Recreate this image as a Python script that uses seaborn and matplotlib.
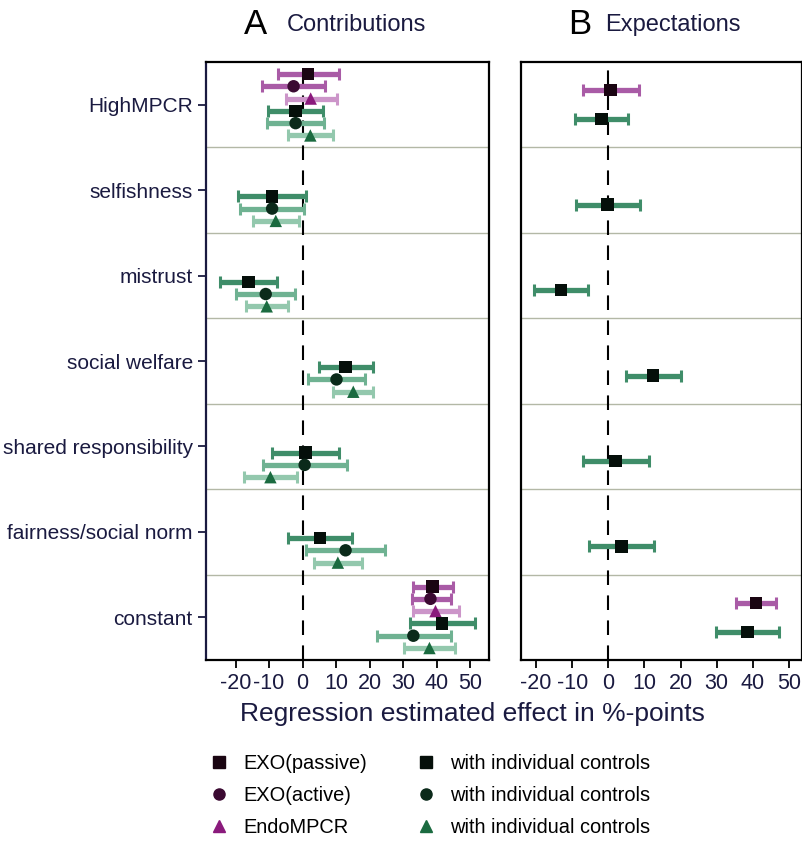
import numpy as np
import pandas as pd
import matplotlib
matplotlib.use('Agg')
import matplotlib.pyplot as plt
from matplotlib.lines import Line2D
import seaborn as sns

sns.set_style('white')
plt.rcParams['font.family'] = ['Liberation Sans', 'DejaVu Sans']
plt.rcParams['axes.unicode_minus'] = False
plt.rcParams['text.color'] = 'black'

nan = np.nan
cats = ['HighMPCR', 'selfishness', 'mistrust', 'social welfare',
        'shared responsibility', 'fairness/social norm', 'constant']

# ---- Panel A: contributions ----
passive_est = [1.6, nan, nan, nan, nan, nan, 38.7]
passive_lo = [-7.2, nan, nan, nan, nan, nan, 32.9]
passive_hi = [10.7, nan, nan, nan, nan, nan, 44.9]
active_est = [-2.7, nan, nan, nan, nan, nan, 38.1]
active_lo = [-12.0, nan, nan, nan, nan, nan, 32.6]
active_hi = [6.7, nan, nan, nan, nan, nan, 44.2]
endo_est = [2.4, nan, nan, nan, nan, nan, 39.6]
endo_lo = [-5.1, nan, nan, nan, nan, nan, 32.9]
endo_hi = [10.1, nan, nan, nan, nan, nan, 46.7]
passive_c_est = [-2.1, -9.2, -16.1, 12.8, 0.8, 5.2, 41.6]
passive_c_lo = [-10.2, -19.2, -24.6, 4.8, -9.2, -4.4, 31.9]
passive_c_hi = [6.1, 0.9, -7.6, 21.0, 10.8, 14.8, 51.4]
active_c_est = [-2.1, -9.1, -11.0, 10.1, 0.6, 12.8, 33.0]
active_c_lo = [-10.6, -18.7, -19.8, 1.6, -11.8, 1.1, 22.2]
active_c_hi = [6.5, 0.5, -2.4, 18.7, 13.2, 24.6, 44.1]
endo_c_est = [2.3, -8.0, -10.7, 15.1, -9.6, 10.5, 37.8]
endo_c_lo = [-4.5, -14.8, -16.9, 9.1, -17.6, 3.4, 30.1]
endo_c_hi = [9.1, -1.1, -4.5, 21.0, -1.6, 17.8, 45.4]

# ---- Panel B: expectations ----
exp_est = [0.6, nan, nan, nan, nan, nan, 40.9]
exp_lo = [-7.1, nan, nan, nan, nan, nan, 35.3]
exp_hi = [8.6, nan, nan, nan, nan, nan, 46.4]
exp_c_est = [-1.9, -0.2, -13.1, 12.4, 2.0, 3.7, 38.5]
exp_c_lo = [-9.2, -9.0, -20.5, 4.9, -7.1, -5.2, 29.8]
exp_c_hi = [5.5, 8.8, -5.5, 20.0, 11.3, 12.6, 47.2]

NAVY = '#1a1a40'
mk_col = {'passive': '#1a0512', 'active': '#3b0a32', 'endo': '#8a1a7c',
          'passive_c': '#050f0a', 'active_c': '#0b2a1a', 'endo_c': '#1b6b40'}
mk_sym = {'passive': 's', 'active': 'o', 'endo': '^',
          'passive_c': 's', 'active_c': 'o', 'endo_c': '^'}
bar_col = {'passive': '#a95ba6', 'active': '#a95ba6', 'endo': '#cc95c9',
           'passive_c': '#3f8d69', 'active_c': '#6fb292', 'endo_c': '#93c8ad'}

panel_a = [('passive', passive_est, passive_lo, passive_hi, -2.5 * 0.144),
           ('active', active_est, active_lo, active_hi, -1.5 * 0.144),
           ('endo', endo_est, endo_lo, endo_hi, -0.5 * 0.144),
           ('passive_c', passive_c_est, passive_c_lo, passive_c_hi, 0.5 * 0.144),
           ('active_c', active_c_est, active_c_lo, active_c_hi, 1.5 * 0.144),
           ('endo_c', endo_c_est, endo_c_lo, endo_c_hi, 2.5 * 0.144)]
panel_b = [('passive', exp_est, exp_lo, exp_hi, -0.17),
           ('passive_c', exp_c_est, exp_c_lo, exp_c_hi, 0.17)]

fig = plt.figure(figsize=(8.02, 8.47), dpi=100)
axA = fig.add_axes([206 / 802, 187 / 847, 282.5 / 802, 598 / 847])
axB = fig.add_axes([520.5 / 802, 187 / 847, 281 / 802, 598 / 847])


def draw(ax, rows, xlim):
    recs = []
    for name, est, lo, hi, off in rows:
        est, lo, hi = map(np.asarray, (est, lo, hi))
        y = np.arange(len(cats)) + off
        ok = ~np.isnan(est)
        _, caps, _ = ax.errorbar(est[ok], y[ok], xerr=[est[ok] - lo[ok], hi[ok] - est[ok]],
                                 fmt='none', ecolor=bar_col[name], elinewidth=3.8,
                                 capsize=4.5, capthick=2.2, zorder=2)
        for c in caps:
            c.set_color('#111111')
        for e, yy in zip(est[ok], y[ok]):
            recs.append({'est': e, 'y': yy, 'series': name})
    df = pd.DataFrame(recs)
    sns.scatterplot(data=df, x='est', y='y', hue='series', style='series',
                    palette=mk_col, markers=mk_sym, s=80, linewidth=0,
                    legend=False, ax=ax, zorder=3)
    ax.axvline(0, color='black', lw=1.5, dashes=(7, 5), zorder=1)
    for b in np.arange(0.5, len(cats) - 0.5):
        ax.axhline(b, color='#b3b8a6', lw=1.0, zorder=0)
    ax.set_xlim(*xlim)
    ax.set_ylim(len(cats) - 0.5, -0.5)
    ax.set_xticks(range(-20, 51, 10))
    ax.tick_params(axis='x', direction='out', length=6, width=1.3,
                   labelsize=15.5, colors='black', labelcolor=NAVY, bottom=True)
    ax.set_xlabel('')
    ax.set_ylabel('')
    for s in ax.spines.values():
        s.set_color('black')
        s.set_linewidth(1.6)


draw(axA, panel_a, (-28.8, 55.4))
draw(axB, panel_b, (-24.3, 53.5))

axA.set_yticks(range(len(cats)))
axA.set_yticklabels(cats)
axA.tick_params(axis='y', direction='out', length=6, width=1.3, left=True,
                labelsize=15, colors=NAVY)
axA.spines['left'].set_color(NAVY)
axB.set_yticks([])

fig.text(256 / 802, 1 - 24 / 847, 'A', fontsize=25, ha='center', va='center', color='black')
fig.text(287 / 802, 1 - 25 / 847, 'Contributions', fontsize=17, ha='left', va='center', color=NAVY)
fig.text(580 / 802, 1 - 24 / 847, 'B', fontsize=25, ha='center', va='center', color='black')
fig.text(605 / 802, 1 - 25 / 847, 'Expectations', fontsize=17, ha='left', va='center', color=NAVY)
fig.text(472 / 802, 1 - 714 / 847, 'Regression estimated effect in %-points',
         fontsize=19, ha='center', va='center', color=NAVY)

order = ['passive', 'active', 'endo', 'passive_c', 'active_c', 'endo_c']
labels = ['EXO(passive)', 'EXO(active)', 'EndoMPCR',
          'with individual controls', 'with individual controls', 'with individual controls']
handles = [Line2D([0], [0], marker=mk_sym[k], color='none', markerfacecolor=mk_col[k],
                  markeredgecolor=mk_col[k], markersize=8) for k in order]
fig.legend(handles, labels, ncol=2, loc='upper left',
           bbox_to_anchor=(209 / 802, 1 - 754 / 847), frameon=False, fontsize=14.4,
           handlelength=1.0, handletextpad=0.7, columnspacing=2.45, labelspacing=0.65,
           borderpad=0, borderaxespad=0, labelcolor='black')

fig.savefig('out.png', dpi=100)
